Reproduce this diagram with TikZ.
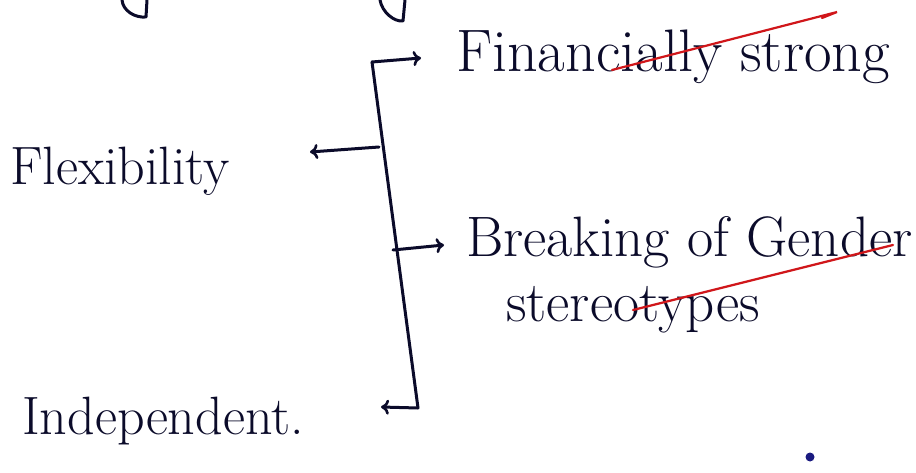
\documentclass[tikz,border=0pt]{standalone}
\usetikzlibrary{arrows.meta}
\definecolor{ink}{HTML}{0B0B2A}
\definecolor{redink}{HTML}{D0161A}
\definecolor{blueink}{HTML}{1A1A80}
\tikzset{
  hand/.style={anchor=base west, inner sep=0pt, text=ink},
  pen/.style={draw=ink, line width=3pt, line cap=round, line join=round},
  arr/.style={pen, -{To[length=8pt,width=15pt,line width=2.6pt]}},
  redpen/.style={draw=redink, line width=2.2pt, line cap=round}
}
\newcommand{\notesize}[1]{\fontsize{#1}{#1}\selectfont}
\begin{document}
\begin{tikzpicture}[x=1pt,y=-1pt]
  \useasboundingbox (0,0) rectangle (916,473);
  \fill[white] (0,0) rectangle (916,473);

  % ends of strokes from the line above
  \draw[pen] (122,0) .. controls (123,11) and (135,18) .. (146,17) -- (147,0);
  \draw[pen] (380,0) .. controls (382,12) and (394,22) .. (403,21) -- (405,0);

  % labels
  \node[hand, font=\notesize{54}] (flex) at (10,185) {Flexibility};
  \node[hand, font=\notesize{60}] (fin) at (456,72) {Financially strong};
  \node[hand, font=\notesize{57}] (brk) at (466,257) {Breaking of Gender};
  \node[hand, font=\notesize{57}] (ster) at (506,321) {stereotypes};
  \node[hand, font=\notesize{54}] (ind) at (22,434) {Independent.};

  % underlines in red
  \draw[redpen] (612,70) -- (837,12) -- (822,18);
  \draw[redpen] (633,310) -- (893,245);

  % bracket
  \coordinate (btop) at (372,62);
  \coordinate (bflex) at (379,147);
  \coordinate (bbrk) at (393,250);
  \coordinate (bbot) at (418,408);
  \coordinate (tfin) at (421,58);
  \coordinate (tflex) at (310,152);
  \coordinate (tbrk) at (444,245);
  \coordinate (tind) at (381,407);

  \draw[pen] (btop) -- (bbot);
  \draw[arr] (btop) -- (tfin);
  \draw[arr] (bflex) -- (tflex);
  \draw[arr] (bbrk) -- (tbrk);
  \draw[arr] (bbot) -- (tind);

  % stray ink dot
  \fill[blueink] (810,457) circle (4.5pt);
\end{tikzpicture}
\end{document}
